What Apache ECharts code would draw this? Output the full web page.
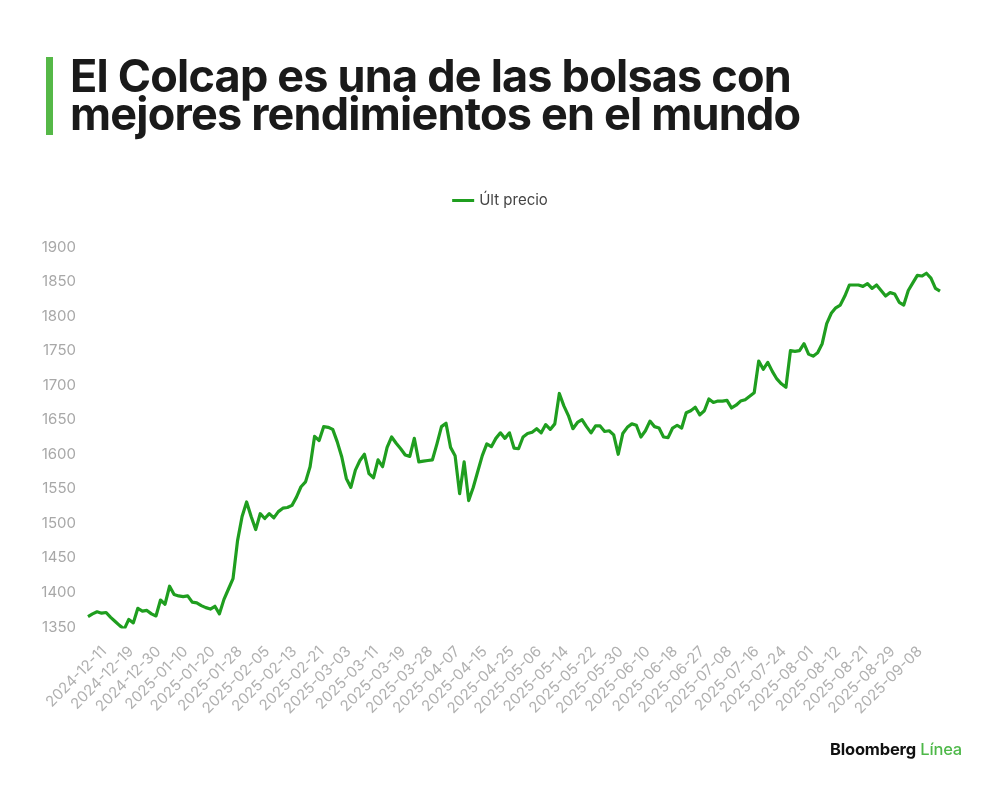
<!DOCTYPE html>
<html>
<head>
<meta charset="utf-8">
<script src="https://cdn.jsdelivr.net/npm/echarts@6/dist/echarts.min.js"></script>
<style>
  html, body { margin: 0; padding: 0; background: #fff; }
  #wrap { position: relative; width: 1000px; height: 790px; overflow: hidden; }
  #chart { position: absolute; left: 0; top: 0; width: 1000px; height: 790px; }
  #bar { position: absolute; left: 46px; top: 57px; width: 7px; height: 78px; background: #55b847; }
  #title { position: absolute; left: 70px; top: 57px; font-family: Inter, Roboto, sans-serif; font-weight: 700;
           font-size: 45px; line-height: 38px; letter-spacing: -0.8px; color: #1a1a1a; white-space: nowrap; }
  #logo { position: absolute; left: 830px; top: 739px; font-family: Inter, Roboto, sans-serif; font-size: 16.5px;
          letter-spacing: -0.2px; white-space: nowrap; }
  #logo b { color: #111; font-weight: 700; }
  #logo span { color: #4db848; font-weight: 500; }
</style>
</head>
<body>
<div id="wrap">
  <div id="chart"></div>
  <div id="bar"></div>
  <div id="title">El Colcap es una de las bolsas con<br>mejores rendimientos en el mundo</div>
  <div id="logo"><b>Bloomberg</b> <span>Línea</span></div>
</div>
<script>
// fechas de cotización (días hábiles BVC)
var dates = [
  '2024-12-11','2024-12-12','2024-12-13','2024-12-16','2024-12-17','2024-12-18','2024-12-19','2024-12-20','2024-12-23','2024-12-24',
  '2024-12-26','2024-12-27','2024-12-30','2025-01-02','2025-01-03','2025-01-07','2025-01-08','2025-01-09','2025-01-10','2025-01-13',
  '2025-01-14','2025-01-15','2025-01-16','2025-01-17','2025-01-20','2025-01-21','2025-01-22','2025-01-23','2025-01-24','2025-01-27',
  '2025-01-28','2025-01-29','2025-01-30','2025-01-31','2025-02-03','2025-02-04','2025-02-05','2025-02-06','2025-02-07','2025-02-10',
  '2025-02-11','2025-02-12','2025-02-13','2025-02-14','2025-02-17','2025-02-18','2025-02-19','2025-02-20','2025-02-21','2025-02-24',
  '2025-02-25','2025-02-26','2025-02-27','2025-02-28','2025-03-03','2025-03-04','2025-03-05','2025-03-06','2025-03-07','2025-03-10',
  '2025-03-11','2025-03-12','2025-03-13','2025-03-14','2025-03-17','2025-03-18','2025-03-19','2025-03-20','2025-03-21','2025-03-25',
  '2025-03-26','2025-03-27','2025-03-28','2025-03-31','2025-04-01','2025-04-02','2025-04-03','2025-04-04','2025-04-07','2025-04-08',
  '2025-04-09','2025-04-10','2025-04-11','2025-04-14','2025-04-15','2025-04-16','2025-04-21','2025-04-22','2025-04-23','2025-04-24',
  '2025-04-25','2025-04-28','2025-04-29','2025-04-30','2025-05-02','2025-05-05','2025-05-06','2025-05-07','2025-05-08','2025-05-09',
  '2025-05-12','2025-05-13','2025-05-14','2025-05-15','2025-05-16','2025-05-19','2025-05-20','2025-05-21','2025-05-22','2025-05-23',
  '2025-05-26','2025-05-27','2025-05-28','2025-05-29','2025-05-30','2025-06-03','2025-06-04','2025-06-05','2025-06-06','2025-06-09',
  '2025-06-10','2025-06-11','2025-06-12','2025-06-13','2025-06-16','2025-06-17','2025-06-18','2025-06-19','2025-06-20','2025-06-24',
  '2025-06-25','2025-06-26','2025-06-27','2025-07-01','2025-07-02','2025-07-03','2025-07-04','2025-07-07','2025-07-08','2025-07-09',
  '2025-07-10','2025-07-11','2025-07-14','2025-07-15','2025-07-16','2025-07-17','2025-07-18','2025-07-21','2025-07-22','2025-07-23',
  '2025-07-24','2025-07-25','2025-07-28','2025-07-29','2025-07-30','2025-07-31','2025-08-01','2025-08-04','2025-08-05','2025-08-06',
  '2025-08-08','2025-08-11','2025-08-12','2025-08-13','2025-08-14','2025-08-15','2025-08-19','2025-08-20','2025-08-21','2025-08-22',
  '2025-08-25','2025-08-26','2025-08-27','2025-08-28','2025-08-29','2025-09-01','2025-09-02','2025-09-03','2025-09-04','2025-09-05',
  '2025-09-08','2025-09-09','2025-09-10','2025-09-11','2025-09-12','2025-09-15','2025-09-16','2025-09-17','2025-09-18'
];

// Colcap, último precio
var ultPrecio = [
  1365,1369,1372,1370,1371,1364,1358,1352,1347,1361,
  1356,1377,1373,1374,1369,1366,1389,1383,1409,1397,
  1395,1394,1395,1386,1385,1381,1378,1376,1380,1369,
  1390,1405,1420,1475,1510,1531,1510,1491,1514,1507,
  1514,1508,1517,1522,1523,1526,1538,1553,1560,1582,
  1626,1620,1640,1639,1636,1618,1596,1565,1552,1577,
  1591,1600,1572,1566,1592,1582,1610,1625,1616,1608,
  1599,1597,1623,1589,1590,1591,1592,1615,1640,1645,
  1610,1598,1543,1589,1533,1552,1575,1598,1615,1611,
  1623,1631,1623,1631,1609,1608,1625,1630,1632,1637,
  1631,1643,1636,1644,1688,1670,1656,1637,1646,1650,
  1640,1631,1641,1641,1633,1634,1628,1600,1630,1639,
  1644,1642,1625,1634,1648,1640,1638,1625,1624,1638,
  1642,1638,1660,1663,1668,1657,1663,1680,1675,1677,
  1677,1678,1667,1671,1677,1679,1684,1689,1735,1723,
  1733,1720,1709,1702,1697,1750,1749,1750,1760,1745,
  1742,1747,1760,1789,1804,1812,1816,1829,1845,1845,
  1845,1843,1847,1840,1845,1837,1829,1834,1832,1820,
  1816,1837,1848,1859,1858,1862,1855,1840,1836
];

// fechas que llevan etiqueta en el eje x
var tickLabels = [
  '2024-12-11','2024-12-19','2024-12-30','2025-01-10','2025-01-20','2025-01-28','2025-02-05','2025-02-13',
  '2025-02-21','2025-03-03','2025-03-11','2025-03-19','2025-03-28','2025-04-07','2025-04-15','2025-04-25',
  '2025-05-06','2025-05-14','2025-05-22','2025-05-30','2025-06-10','2025-06-18','2025-06-27','2025-07-08',
  '2025-07-16','2025-07-24','2025-08-01','2025-08-12','2025-08-21','2025-08-29','2025-09-08'
];

var myChart = echarts.init(document.getElementById('chart'));

var axisFont = 'Inter, Roboto, sans-serif';
var gray = '#a8a8a8';

var option = {
    animation: false,
    legend: {
        top: 188,
        left: 'center',
        icon: 'rect',
        itemWidth: 22,
        itemHeight: 3,
        itemGap: 10,
        textStyle: {color: '#444', fontSize: 15, fontFamily: axisFont},
        data: ['Últ precio']
    },
    grid: [
        {left: 88, right: 60, top: 247, bottom: 163},
        // segunda rejilla solo para las etiquetas, desplazadas a la derecha
        {left: 104, right: 44, top: 247, bottom: 163}
    ],
    xAxis: [
        {
            type: 'category',
            gridIndex: 0,
            data: dates,
            boundaryGap: false,
            axisLine: {show: false},
            axisTick: {show: false},
            axisLabel: {show: false},
            splitLine: {show: false}
        },
        {
            type: 'category',
            gridIndex: 1,
            data: dates,
            boundaryGap: false,
            axisLine: {show: false},
            axisTick: {show: false},
            splitLine: {show: false},
            axisLabel: {
                rotate: 45,
                margin: 22,
                color: '#b0b0b0',
                fontSize: 15,
                fontFamily: axisFont,
                interval: function (idx, val) {
                    return tickLabels.indexOf(val) >= 0;
                }
            }
        }
    ],
    yAxis: [
        {
            type: 'value',
            gridIndex: 0,
            min: 1350,
            max: 1900,
            interval: 50,
            axisLine: {show: false},
            axisTick: {show: false},
            splitLine: {show: false},
            axisLabel: {
                color: gray,
                fontSize: 15,
                fontFamily: axisFont,
                margin: 12,
                formatter: function (v) {
                    return String(v);
                }
            }
        },
        {
            type: 'value',
            gridIndex: 1,
            min: 1350,
            max: 1900,
            show: false
        }
    ],
    series: [
        {
            name: 'Últ precio',
            type: 'line',
            xAxisIndex: 0,
            yAxisIndex: 0,
            data: ultPrecio,
            showSymbol: false,
            symbol: 'none',
            lineStyle: {color: '#1f9e1f', width: 3.2, join: 'round'},
            itemStyle: {color: '#1f9e1f'}
        }
    ]
};

myChart.setOption(option);
</script>
</body>
</html>
